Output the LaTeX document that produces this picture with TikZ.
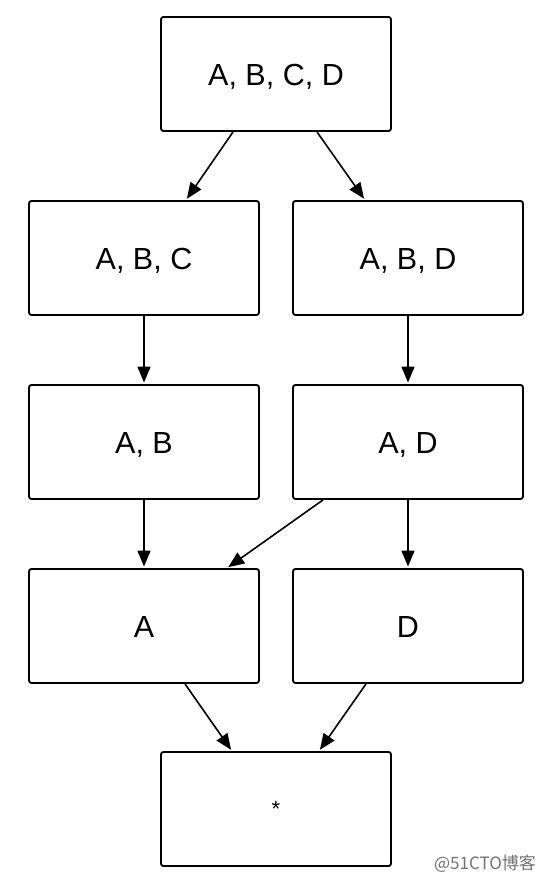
\documentclass[tikz,border=0pt]{standalone}
\usepackage{fontspec}
\setmainfont{Liberation Sans}
\newfontfamily\cjk{Noto Sans CJK SC}
\usetikzlibrary{calc,arrows.meta}
\tikzset{
  box/.style={draw=black, line width=1.9pt, rounded corners=2.5pt, minimum width=230pt, minimum height=114pt, inner sep=0pt, text height=22pt, text depth=0pt, font=\fontsize{30.5}{34}\selectfont, anchor=center},
  conn/.style={line width=1.6pt, -{Triangle[length=16pt,width=13pt]}, shorten >=1.5pt}
}
\begin{document}
\begin{tikzpicture}[x=1pt,y=-1pt]
\useasboundingbox[fill=white] (0,0) rectangle (544,883);
\node[box] (abcd) at (276,74) {A, B, C, D};
\node[box] (abc) at (144,258) {A, B, C};
\node[box] (abd) at (408,258) {A, B, D};
\node[box] (ab) at (144,442) {A, B};
\node[box] (ad) at (408,442) {A, D};
\node[box] (a) at (144,626) {A};
\node[box] (d) at (408,626) {D};
\node[box, font=\fontsize{22}{24}\selectfont] (star) at (276,809) {\raisebox{4pt}{*}};
\node[text=black!55, font=\cjk\fontsize{17}{20}\selectfont, anchor=center] (wm) at (485,864) {@51CTO博客};
\draw[conn] ($(abcd.south)+(-43,0)$) -- ($(abc.north)+(42,0)$);
\draw[conn] ($(abcd.south)+(41,0)$) -- ($(abd.north)+(-43,0)$);
\draw[conn] (abc.south) -- (ab.north);
\draw[conn] (abd.south) -- (ad.north);
\draw[conn] (ab.south) -- (a.north);
\draw[conn] (ad.south) -- (d.north);
\draw[conn] ($(ad.south)+(-85,0)$) -- ($(a.north)+(83,0)$);
\draw[conn] ($(a.south)+(41,0)$) -- ($(star.north)+(-44,0)$);
\draw[conn] ($(d.south)+(-42,0)$) -- ($(star.north)+(43,0)$);
\end{tikzpicture}
\end{document}
